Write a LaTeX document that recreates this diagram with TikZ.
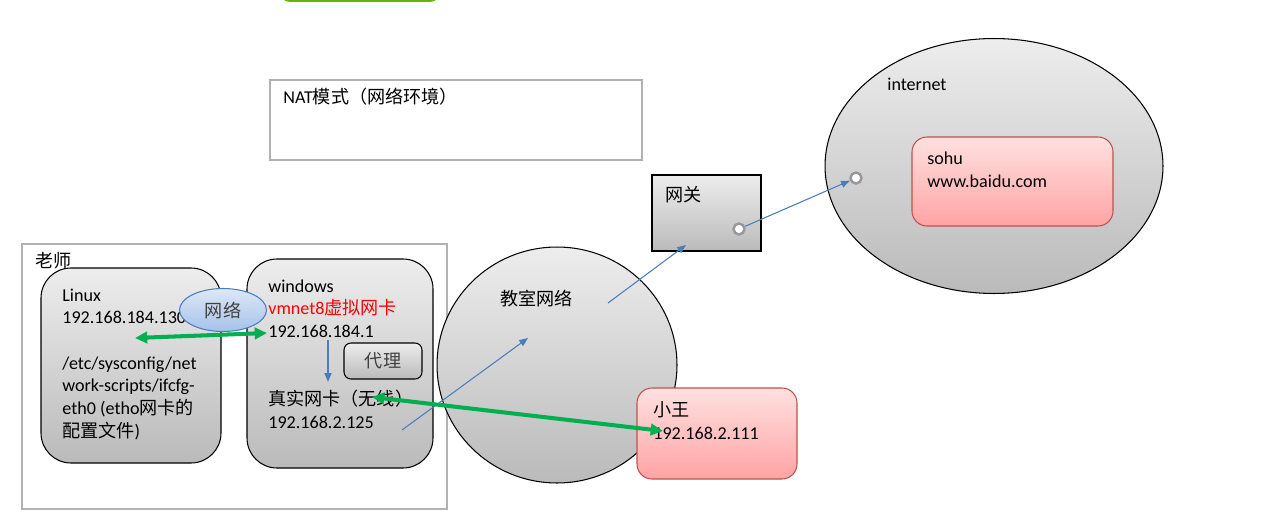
\documentclass[tikz,border=0pt]{standalone}
\usepackage{fontspec}
\setmainfont{Carlito}
\newfontfamily\cjk{Noto Sans CJK SC}
\newcommand{\zh}[1]{{\cjk #1}}
\usetikzlibrary{arrows.meta,fit,shapes.geometric}
\definecolor{netblue}{HTML}{4A7EBB}
\definecolor{lnkgreen}{HTML}{00B050}
\definecolor{pinkedge}{HTML}{C0504D}
\definecolor{skytop}{HTML}{DDE8F6}
\definecolor{skybot}{HTML}{A5C2EA}
\tikzset{
	txt/.style={anchor=base west, inner sep=0pt, align=left, font=\fontsize{10.3}{12.9}\selectfont},
	frame/.style={draw=black!30, line width=0.6pt, inner sep=0pt},
	hostbox/.style={draw, line width=0.6pt, inner sep=0pt, rounded corners=0.6cm, top color=black!7, bottom color=black!27},
	pinkbox/.style={draw=pinkedge, line width=0.6pt, inner sep=0pt, rounded corners=0.3cm, top color=red!12, bottom color=red!36},
	cloudy/.style={draw, ellipse, line width=0.6pt, inner sep=0pt, top color=black!7, bottom color=black!27},
	port/.style={circle, draw=black!40, line width=1.4pt, fill=white, minimum size=0.22cm, inner sep=0pt},
	greenlink/.style={lnkgreen, line width=2.3pt, {Triangle[length=7pt,width=6.5pt]}-{Triangle[length=7pt,width=6.5pt]}},
	bluelink/.style={netblue, line width=0.6pt, -{Triangle[length=5pt,width=4pt]}}
}
\begin{document}
\begin{tikzpicture}[x=0.02cm,y=-0.02cm]
\useasboundingbox (0,0) rectangle (1287,517);
\node[fit={(280,-40) (440,2)}, inner sep=0pt, rounded corners=0.2cm, top color=green!40!yellow!60, bottom color=green!50!black!60!yellow] (topbar) {};
% NAT
\node[frame, fit={(270,80) (642,160)}] (nat) {};
\node[txt] (nattxt) at (283,104) {NAT\zh{模式（网络环境）}};
% teacher
\node[frame, fit={(22,244) (447,509)}] (teacher) {};
\node[txt] (teachertxt) at (35,267) {\zh{老师}};
\node[hostbox, fit={(41,268) (221,463)}] (linux) {};
\node[txt] (linuxtxt) at (62,437) {Linux\\192.168.184.130\\ \mbox{}\\/etc/sysconfig/net\\work-scripts/ifcfg-\\eth0 (etho\zh{网卡的}\\\zh{配置文件})};
\node[hostbox, fit={(247,259) (433,468)}] (win) {};
\node[txt] (wintxt) at (268,428) {windows\\\textcolor{red}{vmnet8\zh{虚拟网卡}}\\192.168.184.1\\ \mbox{}\\ \mbox{}\\\zh{真实网卡（无线）}\\192.168.2.125};
\node[ellipse, draw=netblue, line width=0.6pt, top color=skytop, bottom color=skybot, minimum width=1.74cm, minimum height=0.86cm, inner sep=0pt, font=\fontsize{10.3}{12.9}\cjk, text=black!75] (vnet) at (223,310) {网络};
\node[draw, line width=0.6pt, rounded corners=4pt, top color=black!7, bottom color=black!27, minimum width=1.56cm, minimum height=0.72cm, inner sep=0pt, font=\fontsize{10.3}{12.9}\cjk, text=black!75] (proxy) at (383,361) {代理};
% classroom
\node[cloudy, minimum width=4.8cm, minimum height=4.72cm] (classnet) at (557,365) {};
\node[txt] (classtxt) at (500,305) {\zh{教室网络}};
\node[draw, line width=0.8pt, inner sep=0pt, top color=black!7, bottom color=black!27, fit={(652,175) (761,251)}] (gw) {};
\node[txt] (gwtxt) at (665,201) {\zh{网关}};
\node[port] (gwport) at (739,229) {};
\node[pinkbox, fit={(637,388) (797,479)}] (wang) {};
\node[txt] (wangtxt) at (653,439) {\zh{小王}\\192.168.2.111};
% internet
\node[cloudy, minimum width=6.76cm, minimum height=5.1cm] (inet) at (994,166) {};
\node[txt] (inettxt) at (887,91) {internet};
\node[port] (inetport) at (856,178) {};
\node[pinkbox, fit={(912,137) (1113,226)}] (sohu) {};
\node[txt] (sohutxt) at (927,187) {sohu\\www.baidu.com};
% links
\coordinate (ln1) at (135,338); \coordinate (ln2) at (267,333);
\coordinate (wl1) at (372,397); \coordinate (wl2) at (663,431);
\coordinate (vm) at (328,340); \coordinate (nic) at (328,382);
\coordinate (nicout) at (402,430); \coordinate (classin) at (528,338);
\coordinate (classout) at (608,303); \coordinate (gwin) at (686,245);
\draw[bluelink] (vm) -- (nic);
\draw[bluelink] (nicout) -- (classin);
\draw[bluelink] (classout) -- (gwin);
\draw[bluelink] (gwport) -- (inetport);
\draw[greenlink] (ln1) -- (ln2);
\draw[greenlink] (wl1) -- (wl2);
\end{tikzpicture}
\end{document}
